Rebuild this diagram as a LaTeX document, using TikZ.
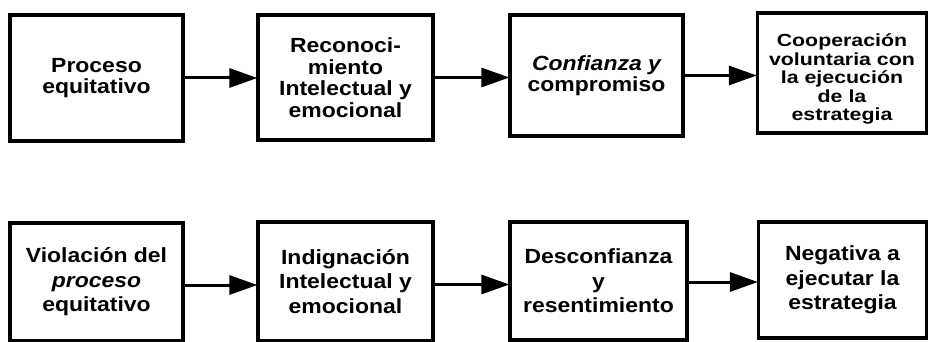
\documentclass[tikz,border=0pt]{standalone}
\usepackage{fontspec}
\setmainfont[FakeStretch=1.12]{Liberation Sans}
\newfontfamily\widefont[FakeStretch=1.22]{Liberation Sans}
\usetikzlibrary{arrows.meta}
\tikzset{
  box/.style={draw=black, line width=3.2pt, inner sep=0pt, align=center,
    font=\bfseries\fontsize{20.5}{21.5}\selectfont},
  lowbox/.style={box, font=\bfseries\fontsize{20.5}{24.5}\selectfont},
  flow/.style={line width=3pt, -{Triangle[length=28pt,width=19pt]}, shorten >=-1pt}
}
\begin{document}
\begin{tikzpicture}[x=1pt,y=-1pt]
\useasboundingbox (0,0) rectangle (929,342);
% top row
\node[box, minimum width=173pt, minimum height=126pt] (t1) at (96.5,78)
  {Proceso\\equitativo};
\node[box, minimum width=175pt, minimum height=125pt] (t2) at (345.5,77.5)
  {Reconoci-\\miento\\Intelectual y\\emocional};
\node[box, minimum width=173pt, minimum height=121pt] (t3) at (596.5,75.5)
  {\itshape Confianza y\\compromiso};
\node[box, minimum width=169pt, minimum height=120pt] (t4) at (842,73) {};
\node[align=center, inner sep=0pt,
  font=\widefont\bfseries\fontsize{17.5}{18.5}\selectfont] (t4text)
  at ([yshift=-6pt]t4.center)
  {Cooperación\\voluntaria con\\la ejecución\\de la\\estrategia};
% bottom row
\node[lowbox, minimum width=173pt, minimum height=118pt] (b1) at (96.5,282)
  {Violación del\\\textit{proceso}\\equitativo};
\node[lowbox, minimum width=175pt, minimum height=119pt] (b2) at (345.5,281.5)
  {Indignación\\Intelectual y\\emocional};
\node[lowbox, minimum width=177pt, minimum height=118pt] (b3) at (598.5,281)
  {Desconfianza\\y\\resentimiento};
\node[lowbox, minimum width=168pt, minimum height=116pt] (b4) at (842.5,280)
  {Negativa a\\ejecutar la\\estrategia};
% arrows
\draw[flow] (t1.east) -- (t1.east -| t2.west);
\draw[flow] (t2.east) -- (t2.east -| t3.west);
\draw[flow] (t3.east) -- (t3.east -| t4.west);
\draw[flow] ([yshift=-3pt]b1.east) -- ([yshift=-3pt]b1.east -| b2.west);
\draw[flow] ([yshift=-3pt]b2.east) -- ([yshift=-3pt]b2.east -| b3.west);
\draw[flow] ([yshift=-1pt]b3.east) -- ([yshift=-1pt]b3.east -| b4.west);
\end{tikzpicture}
\end{document}
